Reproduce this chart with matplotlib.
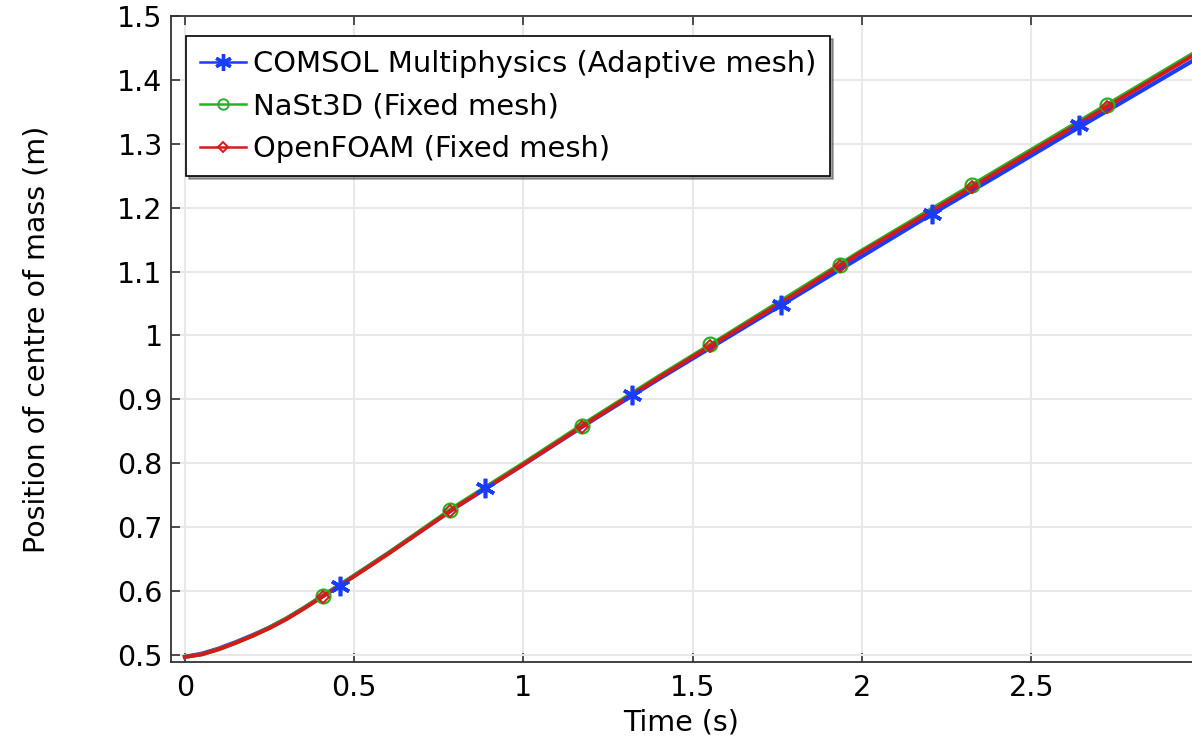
import matplotlib
matplotlib.use('Agg')
import matplotlib.pyplot as plt
from matplotlib.lines import Line2D
from matplotlib.ticker import FuncFormatter

# curves
time_line = [0, 0.05, 0.1, 0.15, 0.2, 0.25, 0.3, 0.35, 0.4, 0.45, 0.5, 0.6, 0.8, 1.0, 1.2, 1.4,
             1.6, 1.8, 2.0, 2.2, 2.4, 2.6, 2.8, 3.0]
comsol_line = [0.497, 0.502, 0.510, 0.520, 0.531, 0.543, 0.557, 0.573, 0.590, 0.607, 0.624, 0.659,
               0.731, 0.798, 0.866, 0.932, 0.996, 1.060, 1.124, 1.188, 1.250, 1.313, 1.375, 1.437]
nast_line = [0.497, 0.501, 0.509, 0.519, 0.530, 0.543, 0.557, 0.573, 0.590, 0.607, 0.624, 0.659,
             0.733, 0.800, 0.869, 0.936, 1.001, 1.067, 1.133, 1.196, 1.259, 1.322, 1.385, 1.448]
foam_line = [0.497, 0.501, 0.509, 0.519, 0.530, 0.542, 0.556, 0.572, 0.589, 0.606, 0.623, 0.658,
             0.731, 0.798, 0.867, 0.934, 0.999, 1.064, 1.131, 1.193, 1.256, 1.319, 1.382, 1.445]

# marker positions
comsol_t = [0.458, 0.886, 1.320, 1.762, 2.206, 2.642]
comsol_y = [0.608, 0.761, 0.907, 1.048, 1.190, 1.329]
nast_t = [0.408, 0.782, 1.172, 1.550, 1.936, 2.325, 2.725]
nast_y = [0.592, 0.727, 0.859, 0.986, 1.111, 1.235, 1.361]
foam_t = [0.408, 0.782, 1.172, 1.550, 1.936, 2.325, 2.725]
foam_y = [0.591, 0.726, 0.857, 0.984, 1.109, 1.232, 1.357]

labels = ['COMSOL Multiphysics (Adaptive mesh)', 'NaSt3D (Fixed mesh)', 'OpenFOAM (Fixed mesh)']
x_ticks = [0, 0.5, 1, 1.5, 2, 2.5]
y_ticks = [0.5, 0.6, 0.7, 0.8, 0.9, 1.0, 1.1, 1.2, 1.3, 1.4, 1.5]

BLUE = '#1a3cff'
GREEN = '#22b422'
RED = '#d41a1a'
ASTERISK = (6, 2, 0)

plt.rcParams['font.family'] = 'DejaVu Sans'
fs = 20.5

fig = plt.figure(figsize=(11.92, 7.37), dpi=100)
ax = fig.add_axes([171 / 1192, 1 - 662 / 737, 1 - 171 / 1192, (662 - 16) / 737])

ax.plot(time_line, comsol_line, color=BLUE, lw=3.0, zorder=3)
ax.plot(time_line, nast_line, color=GREEN, lw=3.0, zorder=4)
ax.plot(time_line, foam_line, color=RED, lw=2.8, zorder=5)

ax.plot(comsol_t, comsol_y, ls='none', marker=ASTERISK, ms=14, mew=2.6, color=BLUE, zorder=6)
ax.plot(nast_t, nast_y, ls='none', marker='o', ms=10, mew=1.6, mfc='none', color=GREEN, zorder=6)
ax.plot(foam_t, foam_y, ls='none', marker='D', ms=6.5, mew=1.4, mfc='none', color=RED, zorder=7)

ax.set_xlim(-0.041, 2.975)
ax.set_ylim(0.489, 1.5)
ax.set_xticks(x_ticks)
ax.set_yticks(y_ticks)
ax.xaxis.set_major_formatter(FuncFormatter(lambda v, p: f'{v:g}'))
ax.yaxis.set_major_formatter(FuncFormatter(lambda v, p: f'{v:g}'))

ax.tick_params(direction='in', length=6.5, width=1.2, labelsize=fs, top=True, right=False,
               color='#333333')
ax.tick_params(axis='x', pad=9)
ax.tick_params(axis='y', pad=6)
ax.spines['right'].set_visible(False)
for s in ['left', 'bottom', 'top']:
    ax.spines[s].set_linewidth(1.3)
    ax.spines[s].set_color('#333333')

ax.grid(True, color='#e8e8e8', lw=1.5)
ax.set_axisbelow(True)

ax.set_xlabel('Time (s)', fontsize=fs, labelpad=4)
ax.set_ylabel('Position of centre of mass (m)', fontsize=fs, labelpad=48)

handles = [
    Line2D([], [], color=BLUE, lw=1.8, marker=ASTERISK, ms=12, mew=2.4),
    Line2D([], [], color=GREEN, lw=1.8, marker='o', ms=7.5, mew=1.4, mfc='none'),
    Line2D([], [], color=RED, lw=1.8, marker='D', ms=5.5, mew=1.4, mfc='none'),
]
leg = ax.legend(handles, labels, loc='upper left', bbox_to_anchor=(0.0147, 0.969), borderaxespad=0,
                prop={'size': 20.9}, fancybox=False, shadow=True, framealpha=1, edgecolor='black',
                handlelength=1.6, handletextpad=0.25, labelspacing=0.5, borderpad=0.47)
leg.get_frame().set_linewidth(1.2)

fig.savefig('out.png', dpi=100)
